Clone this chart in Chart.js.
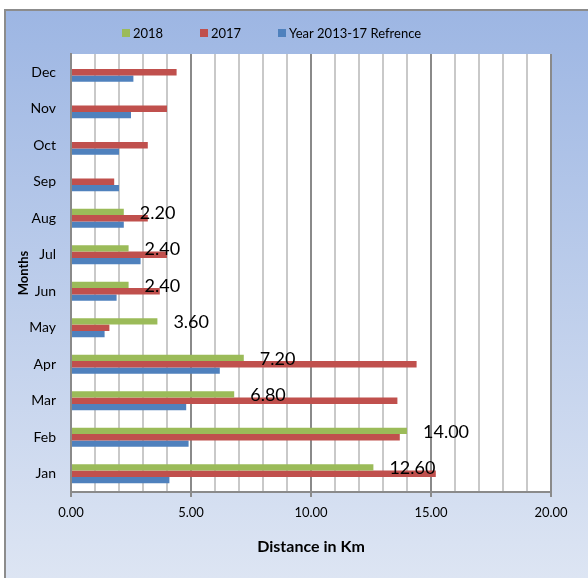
<!DOCTYPE html>
<html>
<head>
<meta charset="utf-8">
<script src="https://cdn.jsdelivr.net/npm/chart.js@4/dist/chart.umd.min.js"></script>
<style>
html,body{margin:0;padding:0;background:#fff;}
canvas{display:block;}
</style>
</head>
<body>
<canvas id="c" width="588" height="578"></canvas>
<script>
const months = ['Jan','Feb','Mar','Apr','May','Jun','Jul','Aug','Sep','Oct','Nov','Dec'];
const series2018 = [12.6, 14.0, 6.8, 7.2, 3.6, 2.4, 2.4, 2.2, null, null, null, null];
const series2017 = [15.2, 13.7, 13.6, 14.4, 1.6, 3.7, 4.0, 3.2, 1.8, 3.2, 4.0, 4.4];
const seriesRef = [4.1, 4.9, 4.8, 6.2, 1.4, 1.9, 2.9, 2.2, 2.0, 2.0, 2.5, 2.6];
const seriesNames = ['2018', '2017', 'Year 2013-17 Refrence'];
const xTitle = 'Distance in Km';
const yTitle = 'Months';

const FONT = 'Lato, "Open Sans", sans-serif';
const MAJOR = '#8A8A8A', MINOR = '#C9C9C9';

const bgPlugin = {
  id: 'bg',
  beforeDraw(chart) {
    const ctx = chart.ctx, W = chart.width, H = chart.height;
    ctx.save();
    ctx.fillStyle = '#fff';
    ctx.fillRect(0, 0, W, H);
    const g = ctx.createLinearGradient(0, 10, 0, H);
    g.addColorStop(0, '#9DB6E3');
    g.addColorStop(1, '#DDE5F3');
    ctx.fillStyle = g;
    ctx.fillRect(5, 10, W - 5, H - 10);
    ctx.strokeStyle = '#8C8C8C';
    ctx.lineWidth = 2;
    ctx.beginPath();
    ctx.moveTo(5, H); ctx.lineTo(5, 10); ctx.lineTo(W, 10);
    ctx.stroke();
    const a = chart.chartArea;
    ctx.fillStyle = '#fff';
    ctx.fillRect(a.left, a.top, a.right - a.left, a.bottom - a.top);
    ctx.restore();
  }
};

const legendPlugin = {
  id: 'customLegend',
  afterDraw(chart) {
    const ctx = chart.ctx;
    ctx.save();
    ctx.font = '13px ' + FONT;
    ctx.textBaseline = 'middle';
    ctx.textAlign = 'left';
    chart.data.datasets.forEach((ds, i) => {
      const x = 122 + i * 78;
      ctx.fillStyle = ds.backgroundColor;
      ctx.fillRect(x, 29, 8, 8);
      ctx.fillStyle = '#000';
      ctx.fillText(ds.label, x + 11, 33.5);
    });
    ctx.restore();
  }
};

const labelPlugin = {
  id: 'valueLabels',
  afterDatasetsDraw(chart) {
    const ctx = chart.ctx;
    const meta = chart.getDatasetMeta(0);
    ctx.save();
    ctx.font = '18px ' + FONT;
    ctx.fillStyle = '#000';
    ctx.textBaseline = 'middle';
    ctx.textAlign = 'left';
    meta.data.forEach((el, i) => {
      const v = chart.data.datasets[0].data[i];
      if (v === null || v === undefined) return;
      ctx.fillText(v.toFixed(2), el.x + 16, el.y + 1);
    });
    ctx.restore();
  }
};

new Chart(document.getElementById('c'), {
  type: 'bar',
  data: {
    labels: months,
    datasets: [
      { label: seriesNames[0], data: series2018, backgroundColor: '#9BBB59' },
      { label: seriesNames[1], data: series2017, backgroundColor: '#C0504D' },
      { label: seriesNames[2], data: seriesRef, backgroundColor: '#4F81BD' }
    ]
  },
  options: {
    indexAxis: 'y',
    responsive: false,
    animation: false,
    layout: { padding: { top: 54, right: 37, left: 0, bottom: 0 } },
    datasets: { bar: { categoryPercentage: 0.52, barPercentage: 1.0 } },
    plugins: { legend: { display: false }, tooltip: { enabled: false } },
    scales: {
      x: {
        type: 'linear',
        min: 0, max: 20,
        afterFit(s) { s.height = 86; },
        ticks: {
          stepSize: 1, autoSkip: false, maxRotation: 0, padding: 8,
          color: '#000', font: { family: FONT, size: 13 },
          callback: v => (v % 5 === 0 ? Number(v).toFixed(2) : '')
        },
        grid: {
          lineWidth: 2, tickLength: 5,
          color: c => (c.tick && c.tick.value % 5 === 0 ? MAJOR : MINOR),
          tickColor: c => (c.tick && c.tick.value % 5 === 0 ? MAJOR : 'rgba(0,0,0,0)')
        },
        border: { color: MAJOR, width: 2 },
        title: { display: true, text: xTitle, color: '#000', font: { family: FONT, size: 16, weight: 'bold' }, padding: { top: 0, bottom: 22 } }
      },
      y: {
        reverse: true,
        afterFit(s) { s.width = 71; },
        ticks: { padding: 15, color: '#000', font: { family: FONT, size: 14 } },
        grid: { display: false, drawTicks: false },
        border: { color: MAJOR, width: 2 },
        title: { display: true, text: yTitle, color: '#000', font: { family: FONT, size: 13, weight: 'bold' }, padding: { top: 16, bottom: 0 } }
      }
    }
  },
  plugins: [bgPlugin, legendPlugin, labelPlugin]
});
</script>
</body>
</html>
